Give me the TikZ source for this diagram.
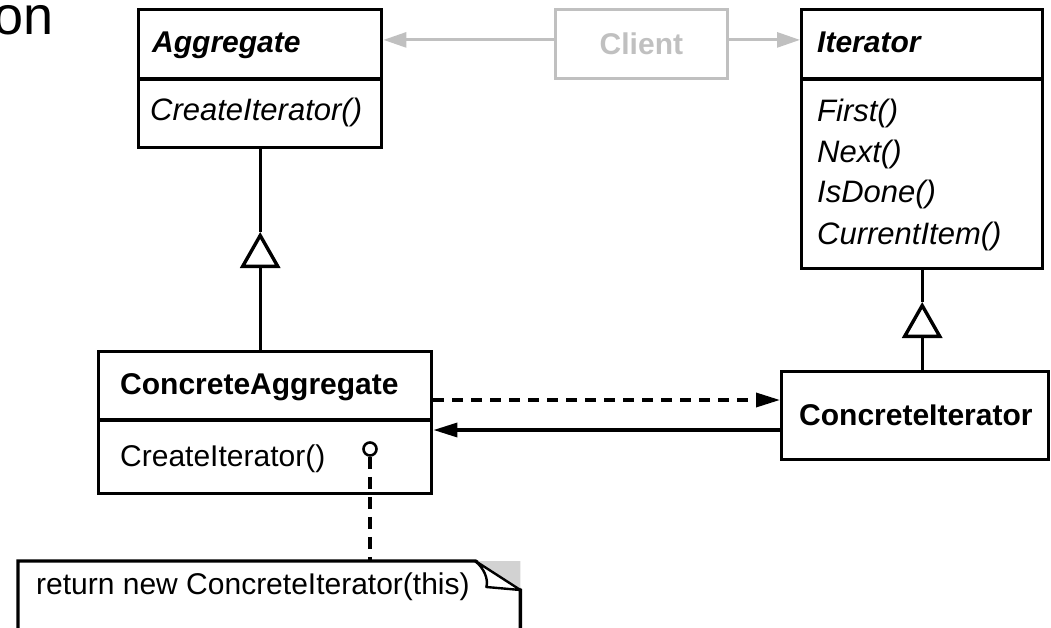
\documentclass[tikz,border=0pt]{standalone}
\usepackage{fontspec}
\setmainfont{Liberation Sans}
\usetikzlibrary{arrows.meta}

\definecolor{clientgray}{RGB}{192,192,192}
\definecolor{foldgray}{RGB}{210,210,210}

\tikzset{
  classbox/.style={draw, line width=3.4pt, anchor=north west, inner sep=0pt},
  txt/.style={inner sep=0pt, anchor=base west, font=\fontsize{30}{36}\selectfont},
  conn/.style={line width=3.4pt},
  gen/.style={conn, -{Triangle[open, length=36pt, width=40pt]}},
  navarrow/.style={conn, -{Triangle[length=24pt, width=14pt]}},
  deparrow/.style={conn, dash pattern=on 11pt off 8pt, -{Triangle[length=24pt, width=14pt]}},
  clientarrow/.style={line width=2.8pt, draw=clientgray, -{Triangle[length=23pt, width=15pt]}, fill=clientgray},
  notelink/.style={line width=3.2pt, dash pattern=on 12pt off 8pt},
}

\begin{document}
\begin{tikzpicture}[x=1pt, y=-1pt]
\useasboundingbox (0,0) rectangle (1051,628);
\clip (0,0) rectangle (1051,628);

% heading fragment
\node[inner sep=0pt, anchor=base east, font=\fontsize{54}{60}\selectfont] (heading) at (54,35) {on};

% Aggregate
\node[classbox, minimum width=243pt, minimum height=138pt] (agg) at (137,8) {};
\draw[line width=3.4pt] (agg.west |- 0,79) -- (agg.east |- 0,79);
\node[txt, font=\fontsize{30}{36}\selectfont\bfseries\itshape] (aggname) at (152,53) {Aggregate};
\node[txt, font=\fontsize{31}{36}\selectfont\itshape] (aggop) at (150,121) {CreateIterator()};

% Iterator
\node[classbox, minimum width=241pt, minimum height=259pt] (iter) at (800,8) {};
\draw[line width=3.4pt] (iter.west |- 0,79) -- (iter.east |- 0,79);
\node[txt, font=\fontsize{30}{36}\selectfont\bfseries\itshape] (itername) at (817,53) {Iterator};
\node[txt, font=\fontsize{31}{36}\selectfont\itshape] (op1) at (817,122) {First()};
\node[txt, font=\fontsize{31}{36}\selectfont\itshape] (op2) at (817,163) {Next()};
\node[txt, font=\fontsize{31}{36}\selectfont\itshape] (op3) at (817,203) {IsDone()};
\node[txt, font=\fontsize{31}{36}\selectfont\itshape] (op4) at (817,244) {CurrentItem()};

% Client
\node[draw=clientgray, line width=2.8pt, anchor=north west, minimum width=172pt, minimum height=69pt,
      text=clientgray, font=\fontsize{30}{36}\selectfont\bfseries] (client) at (554,8) {Client};
\draw[clientarrow] ([yshift=4pt]client.west) -- ([yshift=4pt]client.west -| agg.east);
\draw[clientarrow] ([yshift=4pt]client.east) -- ([yshift=4pt]client.east -| iter.west);

% ConcreteAggregate
\node[classbox, minimum width=333pt, minimum height=142pt] (cagg) at (97,350) {};
\draw[line width=3.4pt] (cagg.west |- 0,420) -- (cagg.east |- 0,420);
\node[txt, font=\fontsize{30}{36}\selectfont\bfseries] (caggname) at (120,394) {ConcreteAggregate};
\node[txt] (caggop) at (120,466) {CreateIterator()};

% ConcreteIterator
\node[classbox, minimum width=267pt, minimum height=88pt] (citer) at (780,370) {};
\node[txt, font=\fontsize{30}{36}\selectfont\bfseries] (citername) at (799,425) {ConcreteIterator};

% generalizations
\coordinate (aggtip) at (agg.south |- 0,232);
\draw[gen] (agg.south |- cagg.north) -- (aggtip);
\draw[conn] (aggtip) -- (agg.south);
\coordinate (itertip) at (iter.south |- 0,302);
\draw[gen] (iter.south |- citer.north) -- (itertip);
\draw[conn] (itertip) -- (iter.south);

% dependency and navigation
\draw[deparrow] (cagg.east |- 0,400) -- (citer.west |- 0,400);
\draw[navarrow] (citer.west |- 0,430) -- (cagg.east |- 0,430);

% note attached to CreateIterator()
\node[draw, circle, line width=2.6pt, minimum size=13pt, inner sep=0pt] (lolli) at (370,449) {};
\node[anchor=north west, minimum width=502pt, minimum height=110pt, inner sep=0pt] (note) at (18,561) {};
\draw[line width=3.4pt] (note.south west) -- (note.north west) -- ([xshift=-45pt]note.north east)
  -- ([yshift=-29pt]note.north east) -- (note.south east);
\fill[foldgray] ([xshift=-45pt]note.north east) -- (note.north east) -- ([yshift=-29pt]note.north east) -- cycle;
\draw[line width=2.4pt, fill=white, line join=round] ([xshift=-45pt]note.north east)
  .. controls +(9pt,-8pt) and +(2pt,8pt) .. ([xshift=-34pt, yshift=-26pt]note.north east)
  -- ([yshift=-29pt]note.north east) -- cycle;
\draw[notelink] (lolli.south) -- (lolli.south |- note.north);
\node[txt] (notetext) at (36,594) {return new ConcreteIterator(this)};
\end{tikzpicture}
\end{document}
